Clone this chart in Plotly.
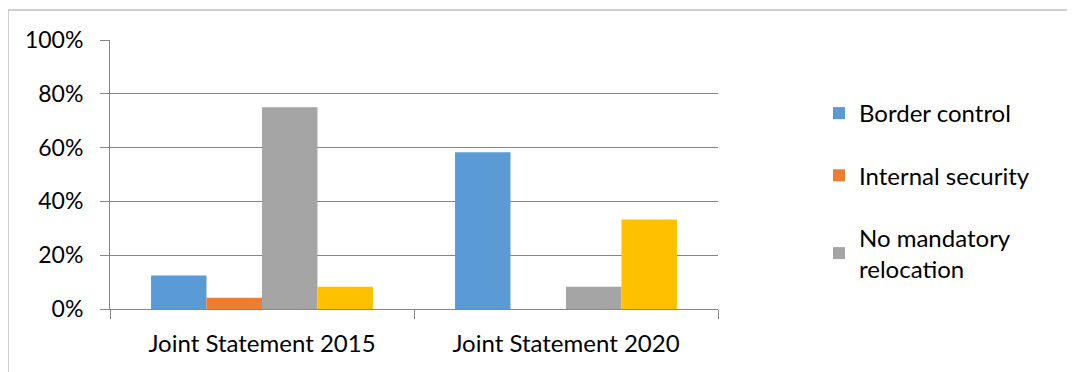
import plotly.graph_objects as go

categories = ["Joint Statement 2015", "Joint Statement 2020"]
series_names = ["Border control", "Internal security", "No mandatory<br>relocation", "Other"]
border_control = [0.125, 0.583]
internal_security = [0.042, 0.0]
no_mandatory_relocation = [0.75, 0.083]
other = [0.083, 0.333]
colors = ["#5B9BD5", "#ED7D31", "#A5A5A5", "#FFC000"]
show_in_legend = [True, True, True, False]

OFF = 8  # page body margin
W, H = 1075 - OFF, 372 - OFF
L, R, T, B = 110 - OFF, 718 - OFF, 40 - OFF, 309 - OFF

fig = go.Figure()
for i, (name, vals) in enumerate(zip(series_names,
                                     [border_control, internal_security, no_mandatory_relocation, other])):
    fig.add_trace(go.Bar(
        x=categories, y=vals, name=name,
        marker=dict(color=colors[i], line=dict(width=0)),
        showlegend=show_in_legend[i], legendgroup=f"g{i}",
    ))

pw = R - L
ph = B - T

def px_x(x):
    return (x - OFF - L) / pw

def px_y(y):
    return (B - (y - OFF)) / ph

fig.update_layout(
    width=W, height=H,
    margin=dict(l=L, r=W - R, t=T, b=H - B, pad=0),
    paper_bgcolor="white", plot_bgcolor="white",
    barmode="group", bargap=0.27, bargroupgap=0,
    font=dict(family="Lato", size=22, color="#000000"),
    legend=dict(
        x=px_x(819), y=px_y(91), xanchor="left", yanchor="top",
        font=dict(family="Lato", size=24, color="#000000"),
        tracegroupgap=28, traceorder="grouped",
        itemwidth=30, bgcolor="rgba(0,0,0,0)",
    ),
    xaxis=dict(
        showgrid=False, showline=True, linecolor="#868686", linewidth=1,
        ticks="outside", tickson="boundaries", ticklen=9, tickcolor="#868686",
        tickfont=dict(size=24), ticklabelstandoff=13,
    ),
    yaxis=dict(
        range=[0, 1], tickvals=[0, 0.2, 0.4, 0.6, 0.8, 1.0],
        tickformat=".0%", showgrid=True, gridcolor="#868686", gridwidth=1,
        showline=True, linecolor="#868686", linewidth=1,
        ticks="outside", ticklen=9, tickcolor="#868686",
        ticklabelstandoff=12, zeroline=False,
        tickfont=dict(size=23),
    ),
    shapes=[
        dict(type="line", xref="paper", yref="paper",
             x0=px_x(8), x1=px_x(1075), y0=px_y(10), y1=px_y(10),
             line=dict(color="#BFBFBF", width=1.5)),
        dict(type="line", xref="paper", yref="paper",
             x0=px_x(8), x1=px_x(8), y0=px_y(10), y1=px_y(372),
             line=dict(color="#BFBFBF", width=1.5)),
    ],
)

fig.write_html("out.html")
